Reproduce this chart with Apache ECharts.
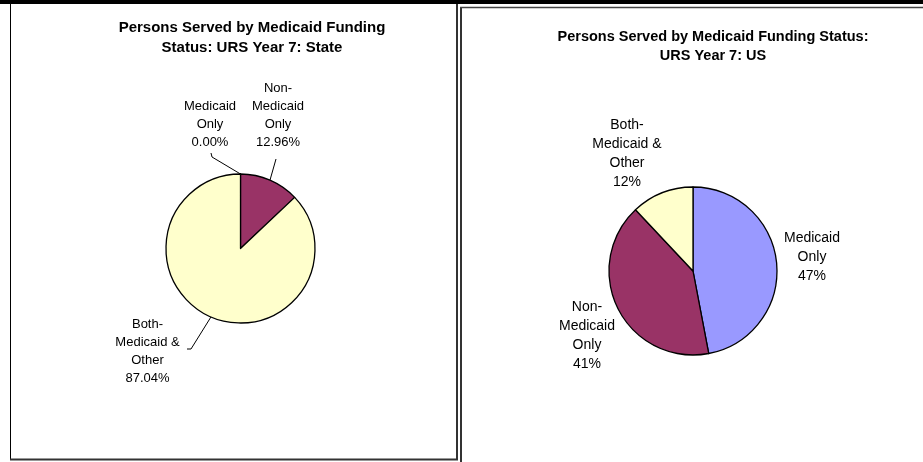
<!DOCTYPE html>
<html>
<head>
<meta charset="utf-8">
<title>Persons Served by Medicaid Funding Status</title>
<script src="https://cdn.jsdelivr.net/npm/echarts@6/dist/echarts.min.js"></script>
<style>
  html, body { margin: 0; padding: 0; background: #fff; }
  #chart { width: 923px; height: 462px; }
</style>
</head>
<body>
<div id="chart"></div>
<script>
// data
var categories = ["Medicaid Only", "Non-Medicaid Only", "Both-Medicaid & Other"];
var wrappedNames = ["Medicaid\nOnly", "Non-\nMedicaid\nOnly", "Both-\nMedicaid &\nOther"];
var stateValues = [0.00, 12.96, 87.04];
var usValues = [47, 41, 12];
var sliceColors = ["#9999FF", "#993366", "#FFFFCC"];

// label placement (centre of each text block) and leader elbows
var stateLabelPos = [[210, 124], [278, 115], [147.5, 351]];
var stateLeader = [[[212, 157], [211, 153]], [[276, 159]], [[191, 349], [187, 349]]];
var usLabelPos = [[812, 257], [587, 335.5], [627, 153.5]];

var myChart = echarts.init(document.getElementById("chart"));

function pieData(values) {
  return values.map(function (v, i) {
    return { name: categories[i], value: v, itemStyle: { color: sliceColors[i] } };
  });
}

function fmt(values, digits) {
  var sum = values.reduce(function (a, b) { return a + b; }, 0);
  return function (p) {
    return wrappedNames[p.dataIndex] + "\n" + (p.value / sum * 100).toFixed(digits) + "%";
  };
}

var font = "'Liberation Sans', Arial, sans-serif";

var option = {
  animation: false,
  graphic: [
    // top black band
    { type: "rect", shape: { x: 0, y: 0, width: 923, height: 4 }, style: { fill: "#000" }, silent: true },
    // left panel frame
    { type: "line", shape: { x1: 10.5, y1: 4, x2: 10.5, y2: 459 }, style: { stroke: "#000", lineWidth: 1 }, silent: true },
    { type: "line", shape: { x1: 457, y1: 4, x2: 457, y2: 460 }, style: { stroke: "#333", lineWidth: 2 }, silent: true },
    { type: "line", shape: { x1: 10, y1: 459.5, x2: 458, y2: 459.5 }, style: { stroke: "#333", lineWidth: 2 }, silent: true },
    // right panel frame
    { type: "line", shape: { x1: 461, y1: 7, x2: 461, y2: 462 }, style: { stroke: "#333", lineWidth: 2 }, silent: true },
    { type: "line", shape: { x1: 460, y1: 7.5, x2: 923, y2: 7.5 }, style: { stroke: "#444", lineWidth: 1.5 }, silent: true },
    // titles
    {
      type: "text", x: 252, y: 38,
      style: {
        text: "Persons Served by Medicaid Funding\nStatus: URS Year 7: State",
        font: "bold 15px " + font, lineHeight: 20, fill: "#000",
        align: "center", verticalAlign: "middle"
      }
    },
    {
      type: "text", x: 713, y: 46,
      style: {
        text: "Persons Served by Medicaid Funding Status:\nURS Year 7: US",
        font: "bold 14.5px " + font, lineHeight: 19, fill: "#000",
        align: "center", verticalAlign: "middle"
      }
    }
  ],
  series: [
    {
      name: "State",
      type: "pie",
      center: [240.5, 248.5],
      radius: 74.5,
      startAngle: 90,
      clockwise: true,
      avoidLabelOverlap: false,
      emphasis: { disabled: true },
      itemStyle: { borderColor: "#000", borderWidth: 1.3 },
      label: {
        show: true,
        position: "outside",
        formatter: fmt(stateValues, 2),
        color: "#000",
        fontFamily: font,
        fontSize: 13,
        lineHeight: 18
      },
      labelLine: { show: true, lineStyle: { color: "#000", width: 1 } },
      labelLayout: function (params) {
        var i = params.dataIndex;
        var pts = [params.labelLinePoints ? params.labelLinePoints[0] : [0, 0]].concat(stateLeader[i]);
        return {
          x: stateLabelPos[i][0],
          y: stateLabelPos[i][1],
          align: "center",
          verticalAlign: "middle",
          labelLinePoints: pts
        };
      },
      data: pieData(stateValues)
    },
    {
      name: "US",
      type: "pie",
      center: [693, 271],
      radius: 84,
      startAngle: 90,
      clockwise: true,
      avoidLabelOverlap: false,
      emphasis: { disabled: true },
      itemStyle: { borderColor: "#000", borderWidth: 1.3 },
      label: {
        show: true,
        position: "outside",
        formatter: fmt(usValues, 0),
        color: "#000",
        fontFamily: font,
        fontSize: 14,
        lineHeight: 19
      },
      labelLine: { show: false },
      labelLayout: function (params) {
        var i = params.dataIndex;
        return {
          x: usLabelPos[i][0],
          y: usLabelPos[i][1],
          align: "center",
          verticalAlign: "middle"
        };
      },
      data: pieData(usValues)
    }
  ]
};

myChart.setOption(option);
</script>
</body>
</html>
